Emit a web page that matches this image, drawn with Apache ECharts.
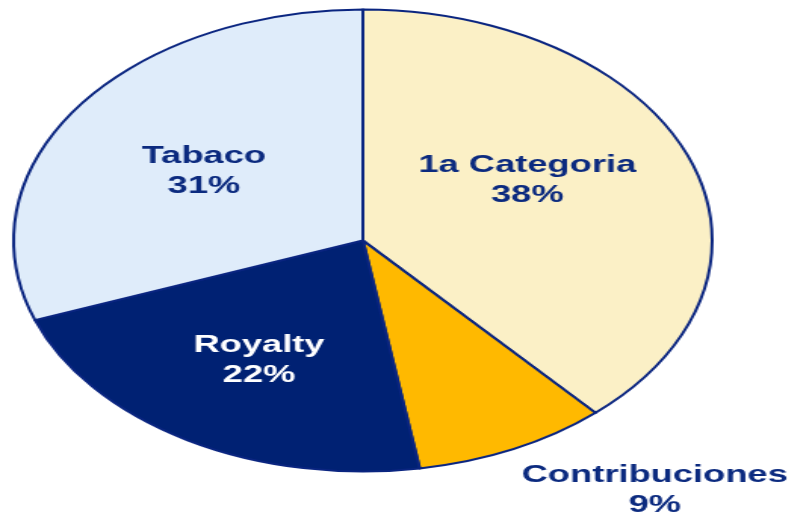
<!DOCTYPE html>
<html>
<head>
<meta charset="utf-8">
<script src="https://cdn.jsdelivr.net/npm/echarts@6/dist/echarts.min.js"></script>
<style>
  html, body { margin: 0; padding: 0; background: #fff; overflow: hidden; }
  /* el gráfico original está estirado en horizontal: lo dibujamos circular y lo escalamos */
  #chart { width: 521px; height: 514px; transform: scaleX(1.512); transform-origin: 0 0; }
</style>
</head>
<body>
<div id="chart"></div>
<script>
// datos
const categorias = ['1a Categoria', 'Contribuciones', 'Royalty', 'Tabaco']
const valores = [38.4, 9.0, 22.0, 30.6]
const colores = ['#FBF0C6', '#FFB900', '#002173', '#DFECFA']
const coloresTexto = ['#0B2A7F', '#0B2A7F', '#FFFFFF', '#0B2A7F']

const myChart = echarts.init(document.getElementById('chart'))

const datos = categorias.map((nombre, i) => ({
  name: nombre,
  value: valores[i],
  itemStyle: { color: colores[i] },
  label: { color: coloresTexto[i] },
}))

const option = {
  animation: false,
  series: [
    {
      type: 'pie',
      center: [240, 240.5],
      radius: 231,
      startAngle: 90,
      clockwise: true,
      percentPrecision: 0,
      itemStyle: {
        borderColor: '#0A2580',
        borderWidth: 2,
      },
      label: {
        position: 'inside',
        formatter: '{b}\n{d}%',
        fontFamily: 'Liberation Sans, Arial, sans-serif',
        fontWeight: 'bold',
        fontSize: 24,
        lineHeight: 30,
        overflow: 'none',
      },
      labelLine: { show: false },
      // pequeños ajustes de posición de las etiquetas
      labelLayout: function (params) {
        if (params.dataIndex === 0) return { dx: -2, dy: -18 }
        if (params.dataIndex === 1) return { x: 433, y: 490, align: 'center', verticalAlign: 'middle' }
        if (params.dataIndex === 2) return { dx: -9, dy: 18 }
        return { dx: -8, dy: -1 }
      },
      emphasis: { disabled: true },
      data: datos,
    },
  ],
}

myChart.setOption(option)
</script>
</body>
</html>
